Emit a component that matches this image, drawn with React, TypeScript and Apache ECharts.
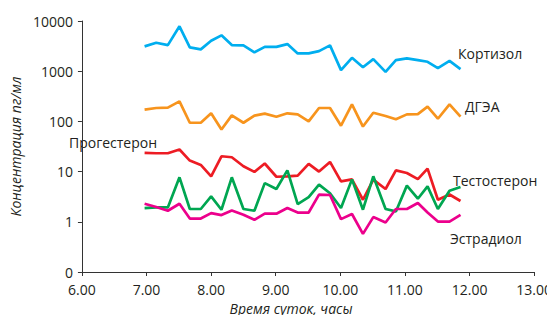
import React, { useEffect, useRef } from "react";
import * as echarts from "echarts";

const times = [6.97, 7.15, 7.33, 7.51, 7.67, 7.84, 8.0, 8.16, 8.32, 8.5, 8.67, 8.83, 9.01, 9.18, 9.34, 9.51, 9.67, 9.84, 10.01, 10.18, 10.35, 10.51, 10.7, 10.86, 11.03, 11.2, 11.35, 11.51, 11.69, 11.86];

const cortisol = [3120, 3680, 3310, 7830, 2980, 2720, 4040, 5180, 3310, 3270, 2370, 3060, 3060, 3470, 2260, 2260, 2510, 3270, 1050, 1850, 1200, 1740, 970, 1660, 1800, 1660, 1540, 1150, 1610, 1100];
const dhea = [171, 185, 188, 251, 94, 94, 145, 69, 132, 94, 130, 143, 124, 145, 138, 100, 185, 185, 82, 219, 79, 149, 128, 110, 138, 140, 197, 113, 219, 124];
const progesterone = [23.7, 23.2, 23.2, 27.5, 16.6, 13.6, 8.05, 20.2, 19.3, 12.8, 9.86, 14.5, 7.9, 8.05, 8.3, 14.3, 10, 15.6, 6.4, 7.0, 2.75, 6.9, 4.5, 10.6, 9.4, 7.1, 11.5, 2.75, 3.5, 2.6];
const testosterone = [1.88, 1.93, 1.93, 7.7, 1.8, 1.8, 3.2, 1.74, 7.7, 1.8, 1.66, 5.9, 4.5, 10.6, 2.26, 3.09, 5.5, 3.7, 1.88, 7.0, 1.74, 8.05, 1.8, 1.61, 5.25, 2.88, 5.08, 1.8, 4.17, 4.94];
const estradiol = [2.29, 1.97, 1.66, 2.29, 1.16, 1.16, 1.49, 1.36, 1.68, 1.38, 1.1, 1.45, 1.45, 1.88, 1.53, 1.53, 3.47, 3.42, 1.13, 1.43, 0.575, 1.24, 0.97, 1.8, 1.8, 2.37, 1.53, 1.01, 1.01, 1.38];

const seriesDefs = [
  { name: "Кортизол", data: cortisol, color: "#00AEEF" },
  { name: "ДГЭА", data: dhea, color: "#F7941D" },
  { name: "Прогестерон", data: progesterone, color: "#ED1C24" },
  { name: "Тестостерон", data: testosterone, color: "#00A651" },
  { name: "Эстрадиол", data: estradiol, color: "#EC008C" },
];

const xTitle = "Время суток, часы";
const yTitle = "Концентрация пг/мл";

const FONT = "Open Sans";
const TXT = "#231F20";

export default function App() {
  const ref = useRef<HTMLDivElement>(null);
  useEffect(() => {
    if (!ref.current) return;
    const chart = echarts.init(ref.current, null, { renderer: "svg" });
    const labelText = (text: string, x: number, y: number) => ({
      type: "text",
      x,
      y,
      style: { text, fill: TXT, font: `14px "${FONT}"`, textVerticalAlign: "middle" },
    });
    chart.setOption({
      animation: false,
      textStyle: { fontFamily: FONT },
      grid: { left: 66, right: 17, top: 21, bottom: 51 },
      xAxis: {
        type: "value",
        min: 6,
        max: 13,
        interval: 1,
        axisLine: { lineStyle: { color: "#333", width: 1 } },
        axisTick: { length: 4, lineStyle: { color: "#333" } },
        axisLabel: {
          formatter: (v: number) => v.toFixed(2),
          fontFamily: FONT,
          fontSize: 14,
          lineHeight: 14,
          color: TXT,
          margin: 10,
        },
        splitLine: { show: false },
      },
      yAxis: {
        type: "log",
        logBase: 10,
        min: 0.1,
        max: 10000,
        name: yTitle,
        nameLocation: "middle",
        nameGap: 46,
        nameRotate: 90,
        nameTextStyle: { fontFamily: FONT, fontSize: 14, fontStyle: "italic", color: TXT },
        axisLine: { show: true, lineStyle: { color: "#333", width: 1 } },
        axisTick: { show: true, length: 4, lineStyle: { color: "#333" } },
        axisLabel: {
          formatter: (v: number) => (v < 0.5 ? "0" : String(Math.round(v))),
          fontFamily: FONT,
          fontSize: 14,
          color: TXT,
          margin: 9,
        },
        splitLine: { show: false },
      },
      series: seriesDefs.map((s) => ({
        type: "line",
        name: s.name,
        data: times.map((t, i) => [t, s.data[i]]),
        showSymbol: false,
        symbol: "none",
        lineStyle: { color: s.color, width: 2.7 },
        itemStyle: { color: s.color },
      })),
      graphic: [
        labelText("Кортизол", 458, 53),
        labelText("ДГЭА", 465, 106),
        labelText("Прогестерон", 69, 142),
        labelText("Тестостерон", 453, 180),
        labelText("Эстрадиол", 450, 238),
        {
          type: "text",
          x: 291,
          y: 308,
          style: {
            text: xTitle,
            fill: TXT,
            font: `italic 14px "${FONT}"`,
            lineHeight: 14,
            textAlign: "center",
            textVerticalAlign: "middle",
          },
        },
      ],
    });
    return () => chart.dispose();
  }, []);
  return <div ref={ref} style={{ width: 555, height: 323, margin: -8 }} />;
}
